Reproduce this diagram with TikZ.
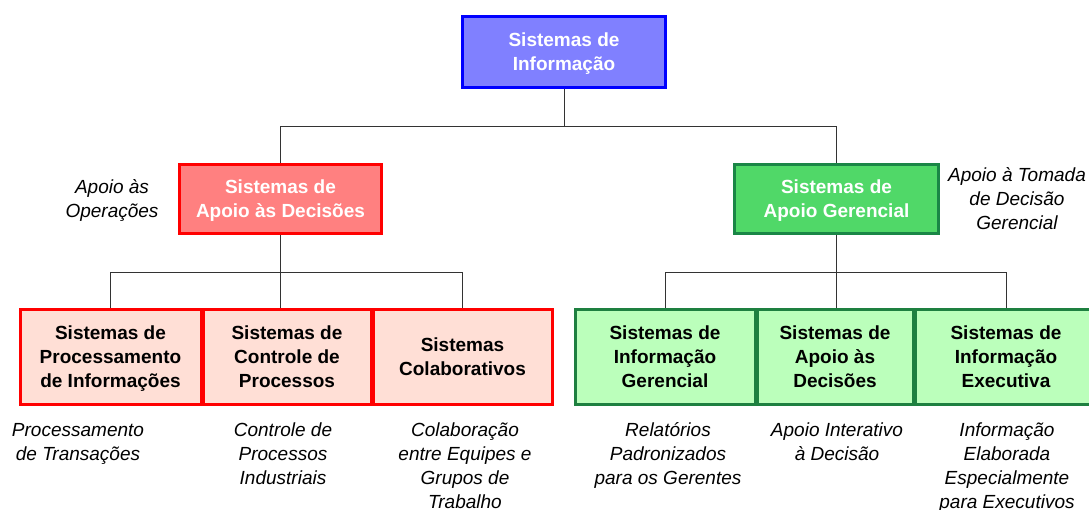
\documentclass[tikz,border=0pt]{standalone}
\usepackage{fontspec}
\setmainfont{Liberation Sans}
\definecolor{sisfill}{HTML}{8080FF}
\definecolor{sisline}{HTML}{0000FF}
\definecolor{redfill}{HTML}{FF8080}
\definecolor{redline}{HTML}{FF0000}
\definecolor{pinkfill}{HTML}{FFDFD6}
\definecolor{grnfill}{HTML}{50D868}
\definecolor{grnline}{HTML}{1A8646}
\definecolor{ltgrnfill}{HTML}{BBFFBB}
\definecolor{ltgrnline}{HTML}{1E8040}
% struts for the first and last line of a text
\newcommand{\ft}{\rule{0pt}{18pt}}
\newcommand{\lt}{\rule[-5pt]{0pt}{5pt}}
\begin{document}
\begin{tikzpicture}[x=1pt,y=-1pt,
  box/.style={draw, line width=3pt, align=center, inner sep=0pt,
    font=\fontsize{19}{24}\selectfont\bfseries},
  topbox/.style={box, fill=sisfill, draw=sisline, text=white,
    minimum width=203, minimum height=71},
  redbox/.style={box, fill=redfill, draw=redline, text=white,
    minimum width=202, minimum height=69},
  grnbox/.style={box, fill=grnfill, draw=grnline, text=white,
    minimum width=204, minimum height=69},
  pinkbox/.style={box, fill=pinkfill, draw=redline, minimum height=95},
  ltgrnbox/.style={box, fill=ltgrnfill, draw=ltgrnline, minimum height=95},
  note/.style={align=center, inner sep=0pt,
    font=\fontsize{19}{24}\selectfont\itshape},
  link/.style={draw=black!80, line width=1pt}]
\useasboundingbox (0,0) rectangle (1089,509);

% levels
\node[topbox] (sis) at (564,52) {\ft Sistemas de\\Informação\lt};
\node[redbox] (sad) at (280.5,199) {\ft Sistemas de\\Apoio às Decisões\lt};
\node[grnbox] (sag) at (836.5,199) {\ft Sistemas de\\Apoio Gerencial\lt};

\node[pinkbox, minimum width=181] (spi) at (110.5,356.5) {\ft Sistemas de\\Processamento\\de Informações\lt};
\node[pinkbox, minimum width=168] (scp) at (287,356.5) {\ft Sistemas de\\Controle de\\Processos\lt};
\node[pinkbox, minimum width=179] (sco) at (462.5,356.5) {\ft Sistemas\\Colaborativos\lt};

\node[ltgrnbox, minimum width=180] (sig) at (665,356.5) {\ft Sistemas de\\Informação\\Gerencial\lt};
\node[ltgrnbox, minimum width=156] (sdec) at (835,356.5) {\ft Sistemas de\\Apoio às\\Decisões\lt};
\node[ltgrnbox, minimum width=182] (sie) at (1006,356.5) {\ft Sistemas de\\Informação\\Executiva\lt};

% connectors
\coordinate (j0) at (564,126);
\coordinate (j1) at (280,272);
\coordinate (j2) at (836,272);
\draw[link] (sis.south) -- (j0);
\draw[link] (sad.north) -- (sad.north |- j0) -- (sag.north |- j0) -- (sag.north);
\draw[link] (sad.south) -- (sad.south |- scp.north);
\draw[link] (spi.north) -- (spi.north |- j1) -- (sco.north |- j1) -- (sco.north);
\draw[link] (sag.south) -- (sag.south |- sdec.north);
\draw[link] (sig.north) -- (sig.north |- j2) -- (sie.north |- j2) -- (sie.north);

% notes
\node[note] (nops) at (112,198.5) {\ft Apoio às\\Operações\lt};
\node[note] (nger) at (1017,198.5) {\ft Apoio à Tomada\\de Decisão\\Gerencial\lt};
\node[note, anchor=north] (ntr) at (78,418) {\ft Processamento\\de Transações};
\node[note, anchor=north] (nind) at (283,418) {\ft Controle de\\Processos\\Industriais};
\node[note, anchor=north] (ncol) at (465,418) {\ft Colaboração\\entre Equipes e\\Grupos de\\Trabalho};
\node[note, anchor=north] (nrel) at (668,418) {\ft Relatórios\\Padronizados\\para os Gerentes};
\node[note, anchor=north] (nint) at (837,418) {\ft Apoio Interativo\\à Decisão};
\node[note, anchor=north] (nexe) at (1007,418) {\ft Informação\\Elaborada\\Especialmente\\para Executivos};
\end{tikzpicture}
\end{document}
